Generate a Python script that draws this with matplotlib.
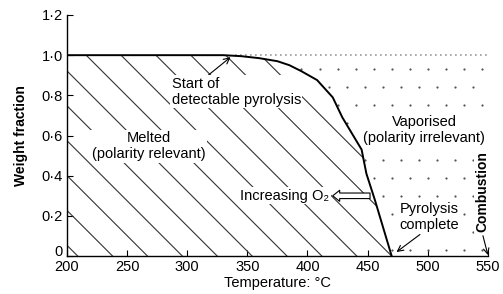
import numpy as np
import matplotlib
matplotlib.use("Agg")
import matplotlib.pyplot as plt
import matplotlib.transforms as mtransforms
from matplotlib.patches import Polygon

plt.rcParams['font.family'] = ['Liberation Sans', 'DejaVu Sans']

# curve
temp = [200, 330, 345, 360, 375, 385, 395, 408, 421, 429, 437, 445, 449, 456, 463, 470]
wfrac = [1.0, 1.0, 0.995, 0.985, 0.97, 0.95, 0.92, 0.876, 0.79, 0.69, 0.61, 0.53, 0.41, 0.28, 0.14, 0.0]

xticks = [200, 250, 300, 350, 400, 450, 500, 550]
yticks = [0, 0.2, 0.4, 0.6, 0.8, 1.0, 1.2]
ylabels = ['0', '0·2', '0·4', '0·6', '0·8', '1·0', '1·2']

fig = plt.figure(figsize=(5.03, 2.94), dpi=100)
ax = fig.add_axes([0.133, 0.129, 0.837, 0.820])
ax.set_xlim(200, 550)
ax.set_ylim(0, 1.2)

# hatched (melted) region under the curve
poly = Polygon(np.column_stack([temp + [temp[-1], temp[0]], wfrac + [0, 0]]),
               closed=True, fc='none', ec='none')
ax.add_patch(poly)
W = fig.get_figwidth() * fig.dpi * 0.837
H = fig.get_figheight() * fig.dpi * 0.820
k = (W / 350) / (H / 1.2)
for x0 in np.arange(180, 720, 29):
    xs = np.array([x0 - 1.2 / k, x0])
    ys = (x0 - xs) * k
    ln, = ax.plot(xs, ys, color='#333333', lw=0.8)
    ln.set_clip_path(poly)

# stippled (vaporised) region: staggered grid of fine dots
i0 = 4
vap = Polygon(np.column_stack([temp[i0:] + [550, 550, temp[i0]],
                               wfrac[i0:] + [0, 1.0, 1.0]]),
              closed=True, fc='none', ec='none')
ax.add_patch(vap)
gx, gy = np.meshgrid(np.arange(335, 560, 15), np.arange(0.03, 1.0, 0.09))
gx = gx + (np.arange(gy.shape[0])[:, None] % 2) * 7.5
dots, = ax.plot(gx.ravel(), gy.ravel(), ls='none', marker='o', ms=1.6,
                mew=0, color='#555555')
dots.set_clip_path(vap)
ax.plot([340, 550], [1.0, 1.0], color='#999999', lw=1.2, ls=(0, (1, 2)))

ax.plot(temp, wfrac, color='black', lw=1.4)

for s in ['top', 'right']:
    ax.spines[s].set_visible(False)
ax.spines['left'].set_linewidth(1.0)
ax.spines['bottom'].set_linewidth(1.0)
ax.set_xticks(xticks)
ax.set_xticklabels([str(t) for t in xticks], fontsize=10.5)
ax.set_yticks(yticks)
ax.set_yticklabels(ylabels, fontsize=10.5)
ax.tick_params(direction='in', length=4, width=0.8, pad=3)
ax.set_xlabel('Temperature: °C', fontsize=10.5, labelpad=1)
ax.set_ylabel('Weight fraction', fontsize=10, fontweight='bold', labelpad=10)

# the "0" sits a little above its tick, as in the original
lab0 = ax.get_yticklabels()[0]
lab0.set_transform(lab0.get_transform() +
                   mtransforms.ScaledTranslation(0, 4 / 72, fig.dpi_scale_trans))

box = dict(fc='white', ec='none', pad=1)
fs = 10.5
ax.annotate('Start of\ndetectable pyrolysis', xy=(336, 0.99), xytext=(287, 0.818),
            ha='left', va='center', fontsize=fs, bbox=box,
            arrowprops=dict(arrowstyle='->', color='black', lw=0.8,
                            shrinkA=0, shrinkB=0, relpos=(0.27, 1.0)))
ax.text(268, 0.547, 'Melted\n(polarity relevant)', ha='center', va='center',
        fontsize=fs, bbox=box)
ax.text(497, 0.627, 'Vaporised\n(polarity irrelevant)', ha='center', va='center',
        fontsize=fs, bbox=box)
ax.text(418, 0.30, 'Increasing O₂', ha='right', va='center', fontsize=fs, bbox=box)
ax.annotate('', xy=(421, 0.30), xytext=(452, 0.30),
            arrowprops=dict(arrowstyle='simple,head_width=0.8,head_length=0.5,tail_width=0.4',
                            fc='white', ec='black', lw=0.8, shrinkA=0, shrinkB=0))
ax.annotate('Pyrolysis\ncomplete', xy=(474, 0.02), xytext=(501, 0.194),
            ha='center', va='center', fontsize=fs, bbox=box,
            arrowprops=dict(arrowstyle='->', color='black', lw=0.8,
                            shrinkA=1, shrinkB=0, relpos=(0.4, 0.0)))
ax.annotate('Combustion', xy=(550, 0.005), xytext=(545, 0.323), rotation=90,
            ha='center', va='center', fontsize=10, fontweight='bold', bbox=box,
            annotation_clip=False,
            arrowprops=dict(arrowstyle='->', color='black', lw=0.8,
                            shrinkA=2, shrinkB=0, relpos=(0.5, 0.0)))

fig.savefig('out.png', dpi=100)
